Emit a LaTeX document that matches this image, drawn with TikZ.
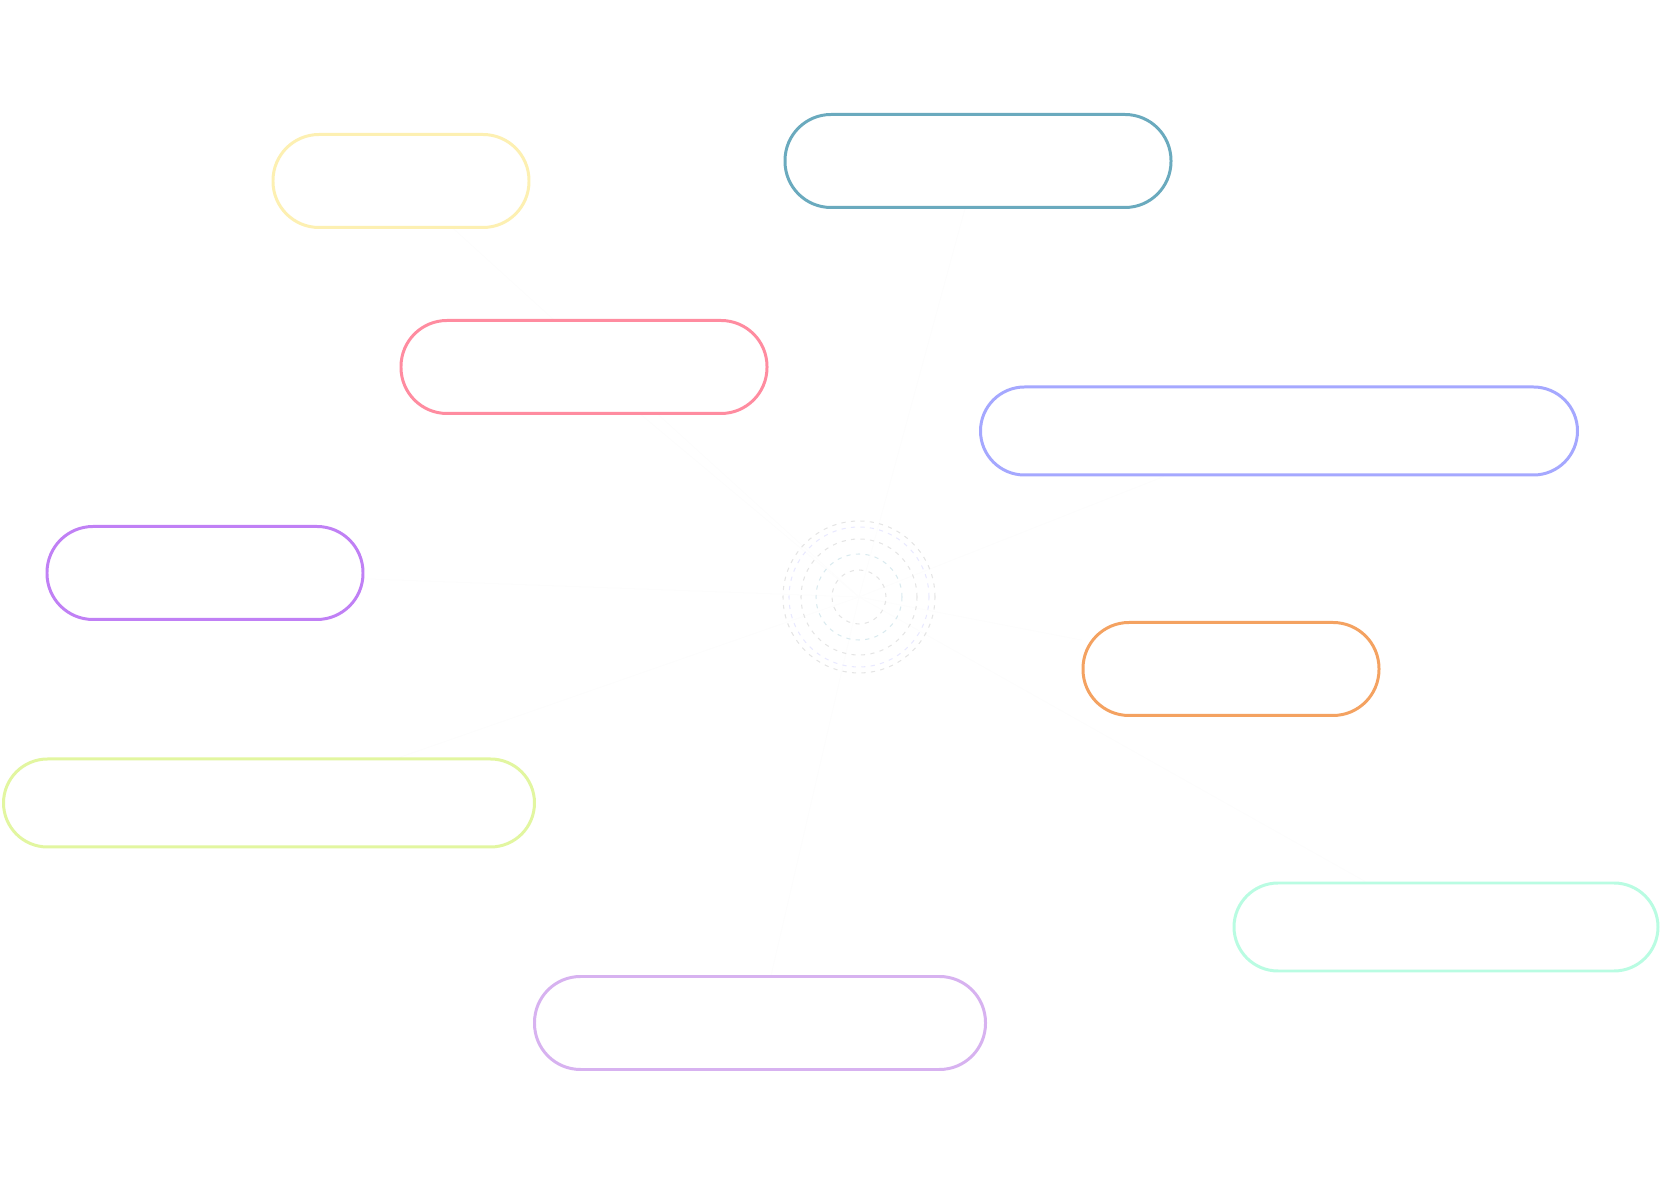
\documentclass[tikz,border=0pt]{standalone}
\usepackage{tikz}
\usetikzlibrary{positioning, calc, backgrounds}
\definecolor{pillJaune}{RGB}{253,240,178}
\definecolor{pillBleu}{RGB}{106,170,190}
\definecolor{pillRose}{RGB}{255,140,160}
\definecolor{pillLavande}{RGB}{165,168,255}
\definecolor{pillViolet}{RGB}{192,128,245}
\definecolor{pillOrange}{RGB}{244,162,97}
\definecolor{pillVert}{RGB}{226,246,160}
\definecolor{pillMenthe}{RGB}{185,252,226}
\definecolor{pillMauve}{RGB}{215,178,240}

\begin{document}
\begin{tikzpicture}[
    pill/.style={draw, fill=white, line width=0.85pt, rounded corners=0.46cm, minimum height=0.93cm, inner sep=0pt},
    pillbas/.style={pill, rounded corners=0.44cm, minimum height=0.88cm},
    link/.style={black!0.7, line width=0.3pt},
    anneau/.style={line width=0.3pt, dash pattern=on 1.2pt off 1.5pt}
]

% Cadre
\useasboundingbox (0,0) rectangle (16.62,11.92);

% Centre
\coordinate (hub) at (8.59,5.95);

% Bulles
\node[pill, draw=pillJaune, minimum width=2.56cm] (jaune) at (4.01,10.11) {};
\node[pill, draw=pillBleu, minimum width=3.86cm] (bleu) at (9.78,10.31) {};
\node[pill, draw=pillRose, minimum width=3.66cm] (rose) at (5.84,8.25) {};
\node[pillbas, draw=pillLavande, minimum width=5.97cm] (lavande) at (12.79,7.61) {};
\node[pill, draw=pillViolet, minimum width=3.16cm] (violet) at (2.05,6.19) {};
\node[pill, draw=pillOrange, minimum width=2.96cm] (orange) at (12.31,5.23) {};
\node[pillbas, draw=pillVert, minimum width=5.31cm] (vert) at (2.69,3.89) {};
\node[pillbas, draw=pillMenthe, minimum width=4.24cm] (menthe) at (14.46,2.65) {};
\node[pill, draw=pillMauve, minimum width=4.51cm] (mauve) at (7.60,1.69) {};

% Liens (presque blancs)
\begin{scope}[on background layer]
\foreach \n in {jaune, bleu, rose, lavande, violet, orange, vert, menthe, mauve} {
    \draw[link] (hub) -- (\n);
}
\end{scope}

% Anneaux
\foreach \r/\c in {0.76/black!10, 0.70/pillLavande!25, 0.58/black!10, 0.43/pillBleu!25, 0.27/black!10} {
    \draw[anneau, \c] (hub) circle (\r);
}

\end{tikzpicture}
\end{document}
